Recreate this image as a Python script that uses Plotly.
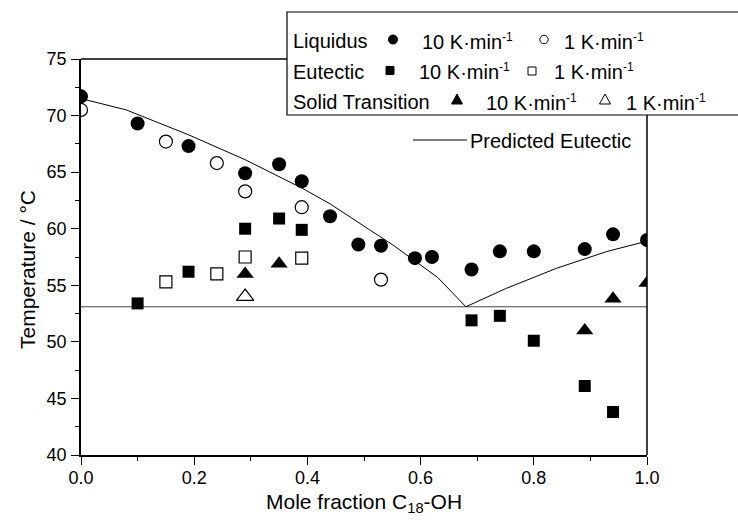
import plotly.graph_objects as go

# Liquidus, 10 K/min (filled circles)
liq10_x = [0.0, 0.10, 0.19, 0.29, 0.35, 0.39, 0.44, 0.49, 0.53, 0.59, 0.62, 0.69, 0.74, 0.80, 0.89, 0.94, 1.0]
liq10_y = [71.7, 69.3, 67.3, 64.9, 65.7, 64.2, 61.1, 58.6, 58.5, 57.4, 57.5, 56.4, 58.0, 58.0, 58.2, 59.5, 59.0]
# Liquidus, 1 K/min (open circles)
liq1_x = [0.0, 0.15, 0.24, 0.29, 0.39, 0.53]
liq1_y = [70.5, 67.7, 65.8, 63.3, 61.9, 55.5]
# Eutectic, 10 K/min (filled squares)
eut10_x = [0.10, 0.19, 0.29, 0.35, 0.39, 0.69, 0.74, 0.80, 0.89, 0.94]
eut10_y = [53.4, 56.2, 60.0, 60.9, 59.9, 51.9, 52.3, 50.1, 46.1, 43.8]
# Eutectic, 1 K/min (open squares)
eut1_x = [0.15, 0.24, 0.29, 0.39]
eut1_y = [55.3, 56.0, 57.5, 57.4]
# Solid transition, 10 K/min (filled triangles)
sol10_x = [0.29, 0.35, 0.89, 0.94, 1.0]
sol10_y = [56.0, 56.9, 51.0, 53.8, 55.2]
# Solid transition, 1 K/min (open triangles)
sol1_x = [0.29]
sol1_y = [54.0]
# Predicted eutectic curve
pred_x = [0.0, 0.08, 0.19, 0.29, 0.39, 0.44, 0.51, 0.55, 0.63, 0.68, 0.75, 0.84, 0.93, 1.0]
pred_y = [71.5, 70.5, 68.3, 66.1, 63.6, 62.2, 59.9, 58.6, 55.7, 53.1, 54.7, 56.5, 58.0, 58.9]
# Eutectic temperature
eutectic_T = 53.1

x_ticks = [0.0, 0.2, 0.4, 0.6, 0.8, 1.0]
x_ticklabels = ["0.0", "0.2", "0.4", "0.6", "0.8", "1.0"]
y_ticks = [40, 45, 50, 55, 60, 65, 70, 75]

FONT = "Liberation Sans, Arial, Helvetica, sans-serif"
W, H = 738, 528
ML, MR, MT, MB = 81, 91, 59, 73
PW, PH = W - ML - MR, H - MT - MB


def px(p):
    return (p - ML) / PW


def py(p):
    return (H - MB - p) / PH


fig = go.Figure()

fig.add_trace(go.Scatter(x=[0, 1], y=[eutectic_T, eutectic_T], mode="lines",
                         line=dict(color="#444444", width=1), showlegend=False))
fig.add_trace(go.Scatter(x=pred_x, y=pred_y, mode="lines",
                         line=dict(color="black", width=1), showlegend=False))


def filled(xs, ys, sym, size):
    return go.Scatter(x=xs, y=ys, mode="markers", showlegend=False,
                      marker=dict(symbol=sym, size=size, color="black",
                                  line=dict(width=0)))


def hollow(xs, ys, sym, size):
    return go.Scatter(x=xs, y=ys, mode="markers", showlegend=False,
                      marker=dict(symbol=sym, size=size, color="white",
                                  line=dict(width=1.2, color="black")))


fig.add_trace(filled(liq10_x, liq10_y, "circle", 14))
fig.add_trace(hollow(liq1_x, liq1_y, "circle", 13))
fig.add_trace(filled(eut10_x, eut10_y, "square", 12))
fig.add_trace(hollow(eut1_x, eut1_y, "square", 12))
fig.add_trace(filled(sol10_x, sol10_y, "triangle-up", 15))
fig.add_trace(hollow(sol1_x, sol1_y, "triangle-up", 15))

shapes = []
# partial frame: top edge up to the key box, right edge below it
shapes.append(dict(type="line", xref="paper", yref="paper", x0=0, x1=px(287), y0=1, y1=1,
                   line=dict(color="black", width=1.5)))
shapes.append(dict(type="line", xref="paper", yref="paper", x0=1, x1=1, y0=0, y1=py(115),
                   line=dict(color="black", width=1.5)))
# key box
shapes.append(dict(type="rect", xref="paper", yref="paper", x0=px(287), x1=px(760),
                   y0=py(115), y1=py(12), fillcolor="white",
                   line=dict(color="black", width=1.2)))


def key_circle(cx, cy, r, fill):
    shapes.append(dict(type="circle", xref="paper", yref="paper",
                       x0=px(cx - r), x1=px(cx + r), y0=py(cy + r), y1=py(cy - r),
                       fillcolor="black" if fill else "white",
                       line=dict(color="black", width=1)))


def key_square(cx, cy, s, fill):
    shapes.append(dict(type="rect", xref="paper", yref="paper",
                       x0=px(cx - s / 2), x1=px(cx + s / 2), y0=py(cy + s / 2), y1=py(cy - s / 2),
                       fillcolor="black" if fill else "white",
                       line=dict(color="black", width=1)))


def key_triangle(cx, cy, w, h, fill):
    path = (f"M {px(cx - w / 2)} {py(cy + h / 2)} L {px(cx + w / 2)} {py(cy + h / 2)} "
            f"L {px(cx)} {py(cy - h / 2)} Z")
    shapes.append(dict(type="path", xref="paper", yref="paper", path=path,
                       fillcolor="black" if fill else "white",
                       line=dict(color="black", width=1)))


key_circle(393, 39.5, 4.5, True)
key_circle(544, 39.5, 4.2, False)
key_square(390, 70.5, 8, True)
key_square(532, 71, 8, False)
key_triangle(457, 99, 11, 10, True)
key_triangle(605, 99, 11, 10, False)
shapes.append(dict(type="line", xref="paper", yref="paper", x0=px(413), x1=px(467),
                   y0=py(140), y1=py(140), line=dict(color="black", width=1)))

annotations = []


def label(text, x, y, size=20):
    annotations.append(dict(text=text, xref="paper", yref="paper", x=px(x), y=py(y),
                            xanchor="left", yanchor="middle", showarrow=False,
                            font=dict(family=FONT, size=size, color="black")))


sup = "<sup><span style='font-size:12px'>-1</span></sup>"
rate10 = "10 K·min" + sup
rate1 = "1 K·min" + sup
label("Liquidus", 291, 41)
label(rate10, 420, 41)
label(rate1, 562, 41)
label("Eutectic", 291, 71.5)
label(rate10, 417, 71.5)
label(rate1, 552, 71.5)
label("Solid Transition", 291, 102)
label(rate10, 484, 102)
label(rate1, 624, 102)
label("Predicted Eutectic", 468, 141)

annotations.append(dict(text="Temperature / °C", xref="paper", yref="paper",
                        x=px(27), y=py(270), textangle=-90, showarrow=False,
                        xanchor="center", yanchor="middle",
                        font=dict(family=FONT, size=21, color="black")))
annotations.append(dict(text="Mole fraction C<sub>18</sub>-OH", xref="paper", yref="paper",
                        x=px(364), y=py(503), showarrow=False,
                        xanchor="center", yanchor="middle",
                        font=dict(family=FONT, size=21, color="black")))

fig.update_layout(
    width=W, height=H,
    margin=dict(l=ML, r=MR, t=MT, b=MB, pad=0),
    plot_bgcolor="white", paper_bgcolor="white",
    shapes=shapes, annotations=annotations,
    showlegend=False,
    xaxis=dict(range=[0, 1], tickvals=x_ticks, ticktext=x_ticklabels,
               showgrid=False, zeroline=False, showline=True, linecolor="black", linewidth=1.5,
               ticks="outside", ticklen=8, tickwidth=1, tickcolor="black",
               minor=dict(dtick=0.1, ticks="outside", ticklen=4, tickcolor="black", showgrid=False),
               tickfont=dict(family=FONT, size=18, color="black"), ticklabelstandoff=-2),
    yaxis=dict(range=[40, 75], tickvals=y_ticks,
               showgrid=False, zeroline=False, showline=True, linecolor="black", linewidth=1.5,
               ticks="outside", ticklen=8, tickwidth=1, tickcolor="black",
               minor=dict(dtick=2.5, ticks="outside", ticklen=4, tickcolor="black", showgrid=False),
               tickfont=dict(family=FONT, size=18, color="black"), ticklabelstandoff=1),
)

fig.write_html("out.html")
